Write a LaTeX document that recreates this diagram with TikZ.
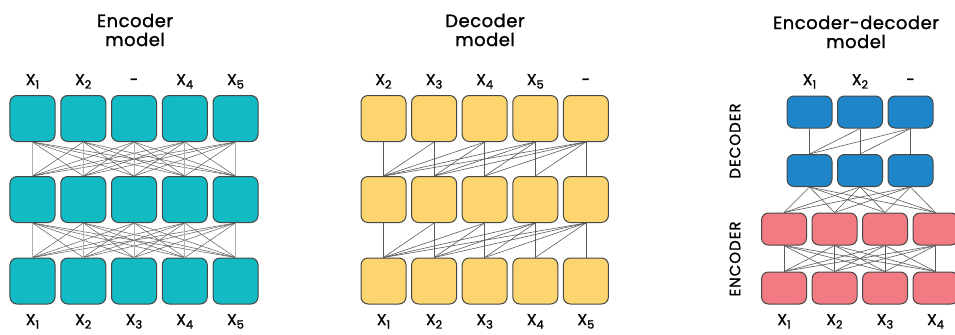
\documentclass[tikz,border=0pt]{standalone}
\usepackage{fontspec}
\setmainfont{Poppins}
\newfontfamily\medfont{Poppins}[FakeBold=1.3]
\newfontfamily\titlefont{Poppins}[FakeBold=1.3,LetterSpace=3]
\newfontfamily\sidefont{Poppins}[FakeBold=1.3,LetterSpace=7]
\definecolor{encTeal}{RGB}{18,186,196}
\definecolor{decYellow}{RGB}{252,213,110}
\definecolor{edBlue}{RGB}{30,134,200}
\definecolor{edPink}{RGB}{242,122,130}
\definecolor{boxLine}{RGB}{70,70,70}
\definecolor{linkGray}{RGB}{90,90,90}
\definecolor{linkLight}{RGB}{175,175,175}
\newcommand\xlab[1]{X\raisebox{-0.42ex}{\fontsize{11.5}{11.5}\selectfont #1}}
\tikzset{
  cell/.style={draw=boxLine, line width=1bp, rounded corners=7bp, minimum width=45bp, minimum height=46bp, inner sep=0pt},
  smallcell/.style={cell, minimum height=32bp},
  link/.style={draw=linkGray, line width=0.5bp},
  vlink/.style={draw=linkLight, line width=0.8bp},
  dlink/.style={draw=linkGray, line width=0.6bp},
  toklab/.style={font=\medfont\fontsize{15.5}{16}\selectfont, anchor=base, inner sep=0pt},
  title/.style={font=\titlefont\fontsize{18}{19}\selectfont, align=center, inner sep=0pt},
  sidelab/.style={font=\sidefont\fontsize{15}{16}\selectfont, rotate=90, inner sep=0pt}
}
\begin{document}
\begin{tikzpicture}[x=1bp,y=-1bp]
\useasboundingbox (0,0) rectangle (955,334);
% ---------------- Encoder model ----------------
\node[title] (enctitle) at (135,30) {Encoder\\model};
\foreach \x [count=\c] in {32.5,83.25,134,184.75,235.5}{
  \node[cell,fill=encTeal] (e-1-\c) at (\x,118.5) {};
  \node[cell,fill=encTeal] (e-2-\c) at (\x,199.5) {};
  \node[cell,fill=encTeal] (e-3-\c) at (\x,281) {};
}
\foreach \a in {1,...,5}{\foreach \b in {1,...,5}{
  \ifnum\a=\b\else
  \draw[link] (e-1-\a.south) -- (e-2-\b.north);
  \draw[link] (e-2-\a.south) -- (e-3-\b.north);
  \fi
}}
\foreach \a in {1,...,5}{
  \draw[vlink] (e-1-\a.south) -- (e-2-\a.north);
  \draw[vlink] (e-2-\a.south) -- (e-3-\a.north);
}
\node[toklab] (et1) at (32.5,85) {\xlab{1}};
\node[toklab] (et2) at (83.25,85) {\xlab{2}};
\node[toklab] (et3) at (134,85) {-};
\node[toklab] (et4) at (184.75,85) {\xlab{4}};
\node[toklab] (et5) at (235.5,85) {\xlab{5}};
\foreach \x [count=\c] in {32.5,83.25,134,184.75,235.5}{
  \node[toklab] (eb\c) at (\x,325) {\xlab{\c}};
}
% ---------------- Decoder model ----------------
\node[title] (dectitle) at (485,30) {Decoder\\model};
\foreach \x [count=\c] in {383.5,434.1,484.7,535.3,585.9}{
  \node[cell,fill=decYellow] (d-1-\c) at (\x,118.5) {};
  \node[cell,fill=decYellow] (d-2-\c) at (\x,199.5) {};
  \node[cell,fill=decYellow] (d-3-\c) at (\x,281) {};
}
\foreach \a in {1,...,5}{\foreach \b in {1,...,\a}{
  \draw[dlink] (d-1-\a.south) -- (d-2-\b.north);
  \draw[dlink] (d-2-\a.south) -- (d-3-\b.north);
}}
\node[toklab] (dt1) at (383.5,85) {\xlab{2}};
\node[toklab] (dt2) at (434.1,85) {\xlab{3}};
\node[toklab] (dt3) at (484.7,85) {\xlab{4}};
\node[toklab] (dt4) at (535.3,85) {\xlab{5}};
\node[toklab] (dt5) at (585.9,85) {-};
\foreach \x [count=\c] in {383.5,434.1,484.7,535.3,585.9}{
  \node[toklab] (db\c) at (\x,325) {\xlab{\c}};
}
% ---------------- Encoder-decoder model ----------------
\node[title] (edtitle) at (856,32) {Encoder-decoder\\model};
\foreach \x [count=\c] in {809.5,860,910.5}{
  \node[smallcell,fill=edBlue] (b-1-\c) at (\x,112) {};
  \node[smallcell,fill=edBlue] (b-2-\c) at (\x,170.5) {};
}
\foreach \x [count=\c] in {784,834.5,885,935.5}{
  \node[smallcell,fill=edPink] (r-1-\c) at (\x,229) {};
  \node[smallcell,fill=edPink] (r-2-\c) at (\x,288) {};
}
\foreach \a in {1,...,3}{\foreach \b in {1,...,\a}{
  \draw[dlink] (b-1-\a.south) -- (b-2-\b.north);
}}
\foreach \a in {1,...,3}{\foreach \b in {1,...,4}{
  \draw[dlink] (b-2-\a.south) -- (r-1-\b.north);
}}
\foreach \a in {1,...,4}{\foreach \b in {1,...,4}{
  \draw[dlink] (r-1-\a.south) -- (r-2-\b.north);
}}
\node[sidelab] (declab) at (735,141) {DECODER};
\node[sidelab] (enclab) at (735,259) {ENCODER};
\node[toklab] (bt1) at (809.5,85) {\xlab{1}};
\node[toklab] (bt2) at (860,85) {\xlab{2}};
\node[toklab] (bt3) at (910.5,85) {-};
\foreach \x [count=\c] in {784,834.5,885,935.5}{
  \node[toklab] (rb\c) at (\x,325) {\xlab{\c}};
}
\end{tikzpicture}
\end{document}
